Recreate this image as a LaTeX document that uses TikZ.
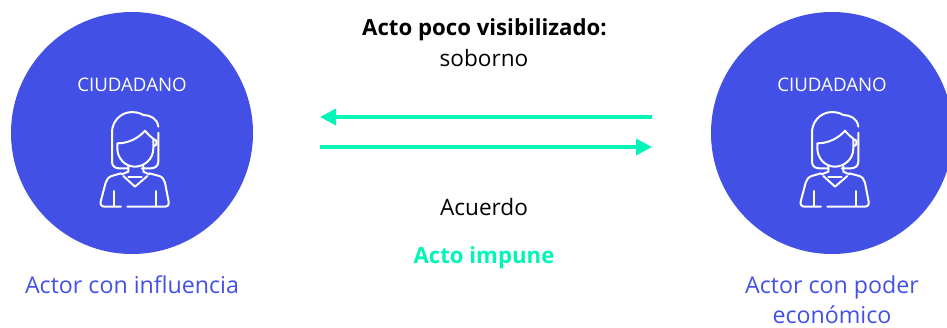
\documentclass[tikz,border=0pt]{standalone}
\usepackage{fontspec}
\setmainfont{Open Sans}
\usetikzlibrary{arrows.meta}
\definecolor{royal}{HTML}{4350E6}
\definecolor{mint}{HTML}{00F5B8}
\tikzset{
  x=1pt,y=-1pt,
  actor/.style={circle,fill=royal,draw=none,minimum size=242pt,inner sep=0pt},
  badge/.style={text=white,font=\fontsize{18.7}{22}\selectfont,inner sep=0pt},
  caption/.style={text=royal,font=\fontsize{23.2}{30}\selectfont,align=center,inner sep=0pt},
  body/.style={text=black,font=\fontsize{22.6}{30}\selectfont,align=center,inner sep=0pt},
  boldbody/.style={font=\fontsize{22.2}{30}\selectfont\bfseries,inner sep=0pt},
  link/.style={draw=mint,line width=3.6pt,-{Triangle[length=16pt,width=16pt]},shorten >=0pt},
  iconline/.style={draw=white,line width=2pt,line cap=round,line join=round},
  pics/woman/.style={code={
    \begin{scope}[x=0.3333pt,y=-0.3333pt,shift={(-225,-300)}]
      % hair
      \draw[iconline] (295,200) .. controls (292,175) and (270,165) .. (250,165)
        .. controls (235,155) and (205,152) .. (185,165)
        .. controls (165,178) and (156,195) .. (156,220) -- (156,305)
        .. controls (156,318) and (165,325) .. (178,325) -- (205,325);
      \draw[iconline] (295,218) -- (295,305) .. controls (295,318) and (285,325) .. (272,325) -- (245,325);
      % face
      \draw[iconline] (172,250) .. controls (205,250) and (235,235) .. (255,212)
        .. controls (265,225) and (275,232) .. (280,236) -- (280,265)
        .. controls (280,300) and (250,320) .. (225,320)
        .. controls (195,320) and (172,295) .. (172,265) -- cycle;
      % ear
      \draw[iconline] (283,238) .. controls (292,240) and (292,255) .. (283,258);
      % neck and collar
      \draw[iconline] (205,318) -- (205,335) -- (185,343);
      \draw[iconline] (250,318) -- (250,335) -- (268,343);
      \draw[iconline] (190,348) -- (225,380) -- (262,348);
      \draw[iconline] (205,352) -- (245,352);
      % shoulders and body
      \draw[iconline] (183,340) -- (155,348) .. controls (145,352) and (140,358) .. (137,368)
        -- (122,425) .. controls (120,435) and (125,440) .. (135,440) -- (183,440);
      \draw[iconline] (268,340) -- (298,348) .. controls (308,352) and (312,358) .. (315,368)
        -- (326,425) .. controls (328,435) and (323,440) .. (313,440) -- (202,440);
      \draw[iconline] (162,393) -- (162,438);
      \draw[iconline] (288,393) -- (288,438);
    \end{scope}
  }}
}
\begin{document}
\begin{tikzpicture}
\useasboundingbox (0,0) rectangle (947,327);
\clip (0,0) rectangle (947,327);
\node[actor] (left) at (132,133) {};
\node[actor] (right) at (832,133) {};
\node[badge] (leftbadge) at (132,85) {CIUDADANO};
\node[badge] (rightbadge) at (832,85) {CIUDADANO};
\pic at (135,160) {woman};
\pic at (835,160) {woman};
\node[caption] (leftcap) at (132,285) {Actor con influencia};
\node[caption] (rightcap) at (832,300) {Actor con poder\\económico};
\node[boldbody] (title) at (484.5,30) {Acto poco visibilizado:};
\node[body] (sub) at (484,58) {soborno};
\node[body] (deal) at (484,207) {Acuerdo};
\node[boldbody,text=mint] (impune) at (484,258) {Acto impune};
\coordinate (a1) at (652,117);
\coordinate (a2) at (320,117);
\coordinate (b1) at (320,147);
\coordinate (b2) at (652,147);
\draw[link] (a1) -- (a2);
\draw[link] (b1) -- (b2);
\end{tikzpicture}
\end{document}
